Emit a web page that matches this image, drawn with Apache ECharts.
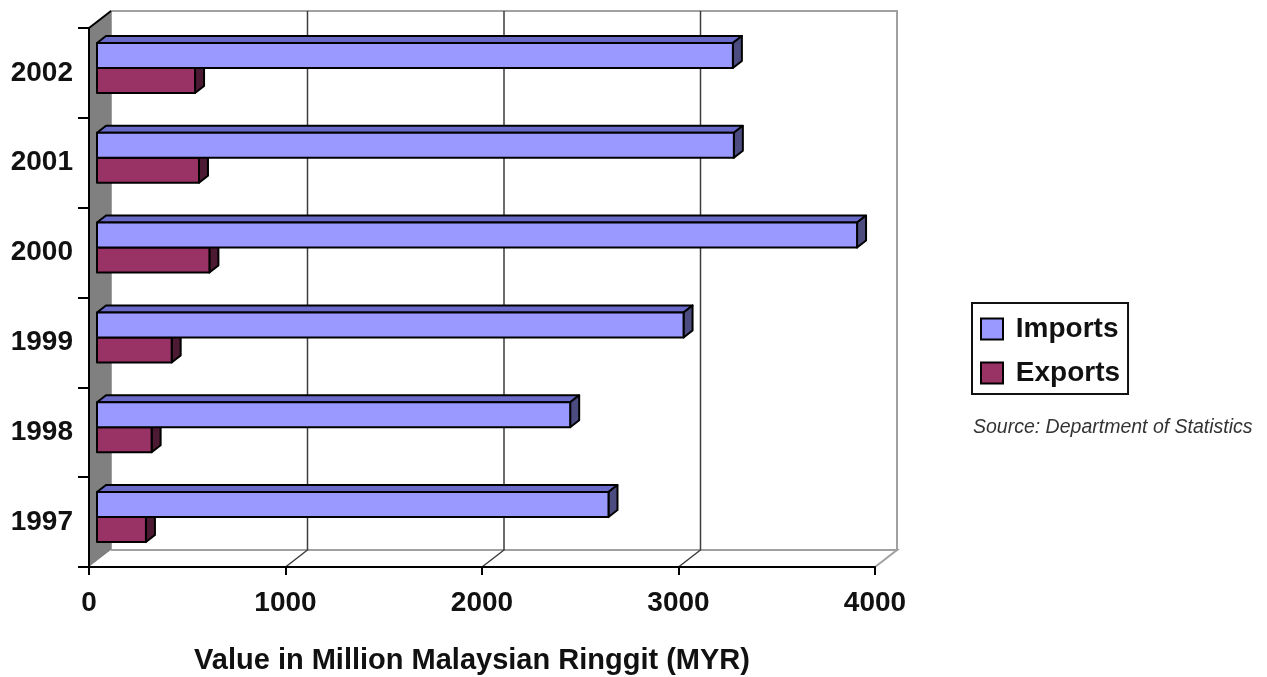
<!DOCTYPE html>
<html>
<head>
<meta charset="utf-8">
<title>Imports and Exports 1997-2002</title>
<script src="https://cdn.jsdelivr.net/npm/echarts@6/dist/echarts.min.js"></script>
<style>
  html, body { margin: 0; padding: 0; background: #ffffff; }
  #chart { width: 1267px; height: 677px; }
</style>
</head>
<body>
<div id="chart"></div>
<script>
// Values in million MYR, one entry per year (bottom to top)
const years = ['1997', '1998', '1999', '2000', '2001', '2002'];
const importsData = [2603, 2408, 2985, 3868, 3241, 3236];
const exportsData = [249, 278, 380, 572, 519, 499];
const xTicks = [0, 1000, 2000, 3000, 4000];
const gridValues = [1000, 2000, 3000];

const FONT = '"Liberation Sans", Arial, sans-serif';

// Pseudo-3D depth: full wall depth and bar placement inside it
const WDX = 22, WDY = -17;      // back wall offset from the front plane
const BDX = 8, BDY = -5;        // bar front face offset
const SDX = 9, SDY = -7;        // bar thickness (side / top faces)
const BAR_H = 25;               // bar height in pixels

function frameRenderer(params, api) {
  const cs = params.coordSys;
  const L = cs.x, R = cs.x + cs.width, T = cs.y, B = cs.y + cs.height;
  const children = [];
  // back wall
  children.push({
    type: 'rect',
    shape: { x: L + WDX, y: T + WDY, width: R - L, height: B - T },
    style: { fill: '#ffffff', stroke: '#a0a0a0', lineWidth: 2 }
  });
  // left side wall
  children.push({
    type: 'polygon',
    shape: { points: [[L, T], [L + WDX, T + WDY], [L + WDX, B + WDY], [L, B]] },
    style: { fill: '#808080' }
  });
  // floor
  children.push({
    type: 'polygon',
    shape: { points: [[L, B], [R, B], [R + WDX, B + WDY], [L + WDX, B + WDY]] },
    style: { fill: '#ffffff' }
  });
  children.push({
    type: 'polyline',
    shape: { points: [[L + WDX, B + WDY], [R + WDX, B + WDY], [R, B]] },
    style: { stroke: '#a0a0a0', lineWidth: 2, fill: null }
  });
  // value gridlines across the floor and up the back wall
  gridValues.forEach(function (v) {
    const x = api.coord([v, 0])[0];
    children.push({
      type: 'polyline',
      shape: { points: [[x, B], [x + WDX, B + WDY], [x + WDX, T + WDY]] },
      style: { stroke: '#3c3c3c', lineWidth: 1.5, fill: null }
    });
  });
  // top edge of the side wall
  children.push({
    type: 'line',
    shape: { x1: L, y1: T, x2: L + WDX, y2: T + WDY },
    style: { stroke: '#000000', lineWidth: 2 }
  });
  return { type: 'group', children: children };
}

function barRenderer(front, top, side, upper) {
  return function (params, api) {
    const v = api.value(0), c = api.value(1);
    const p0 = api.coord([0, c]);
    const p1 = api.coord([v, c]);
    const x0 = p0[0] + BDX, x1 = p1[0] + BDX;
    const mid = p0[1] + BDY;
    const y0 = upper ? mid - BAR_H : mid;
    const y1 = upper ? mid : mid + BAR_H;
    const edge = { stroke: '#000000', lineWidth: 2, lineJoin: 'round' };
    return {
      type: 'group',
      children: [
        {
          type: 'polygon',
          shape: { points: [[x0, y0], [x1, y0], [x1 + SDX, y0 + SDY], [x0 + SDX, y0 + SDY]] },
          style: Object.assign({ fill: top }, edge)
        },
        {
          type: 'polygon',
          shape: { points: [[x1, y0], [x1 + SDX, y0 + SDY], [x1 + SDX, y1 + SDY], [x1, y1]] },
          style: Object.assign({ fill: side }, edge)
        },
        {
          type: 'rect',
          shape: { x: x0, y: y0, width: x1 - x0, height: y1 - y0 },
          style: Object.assign({ fill: front }, edge)
        }
      ]
    };
  };
}

const chart = echarts.init(document.getElementById('chart'), null, { renderer: 'canvas' });

chart.setOption({
  backgroundColor: '#ffffff',
  animation: false,
  grid: { left: 89, right: 392, top: 28, bottom: 110 },
  xAxis: {
    type: 'value',
    min: xTicks[0],
    max: xTicks[xTicks.length - 1],
    interval: xTicks[1] - xTicks[0],
    axisLine: { show: true, lineStyle: { color: '#000000', width: 2 } },
    axisTick: { show: true, length: 8, lineStyle: { color: '#000000', width: 2 } },
    axisLabel: {
      fontSize: 28, fontWeight: 'bold', color: '#111111', margin: 22, fontFamily: FONT,
      formatter: function (v) { return String(v); }
    },
    splitLine: { show: false }
  },
  yAxis: {
    type: 'category',
    data: years,
    axisLine: { show: true, lineStyle: { color: '#000000', width: 2 } },
    axisTick: { show: true, length: 11, lineStyle: { color: '#000000', width: 2 } },
    axisLabel: { fontSize: 28, fontWeight: 'bold', color: '#111111', margin: 16, fontFamily: FONT },
    splitLine: { show: false }
  },
  legend: {
    orient: 'vertical',
    left: 972,
    top: 303,
    padding: [11, 8, 6, 8],
    itemGap: 14,
    itemWidth: 22,
    itemHeight: 21,
    borderColor: '#111111',
    borderWidth: 2,
    backgroundColor: '#ffffff',
    selectedMode: false,
    formatter: function (name) { return ' ' + name; },
    textStyle: { fontSize: 28, fontWeight: 'bold', color: '#111111', lineHeight: 30, fontFamily: FONT },
    data: [
      { name: 'Imports', icon: 'rect', itemStyle: { color: '#9999ff', borderColor: '#000000', borderWidth: 2 } },
      { name: 'Exports', icon: 'rect', itemStyle: { color: '#993366', borderColor: '#000000', borderWidth: 2 } }
    ]
  },
  graphic: [
    {
      type: 'text',
      x: 472,
      y: 661,
      style: {
        text: 'Value in Million Malaysian Ringgit (MYR)',
        align: 'center',
        verticalAlign: 'middle',
        fill: '#111111',
        font: 'bold 29px ' + FONT
      }
    },
    {
      type: 'text',
      x: 973,
      y: 428,
      style: {
        text: 'Source: Department of Statistics',
        align: 'left',
        verticalAlign: 'middle',
        fill: '#333333',
        font: 'italic 19.5px ' + FONT
      }
    }
  ],
  series: [
    {
      name: 'frame',
      type: 'custom',
      z: -1,
      silent: true,
      clip: false,
      encode: { x: 0, y: 1 },
      data: [[0, 0]],
      renderItem: frameRenderer
    },
    {
      name: 'Exports',
      type: 'custom',
      z: 3,
      clip: false,
      encode: { x: 0, y: 1 },
      itemStyle: { color: '#993366' },
      data: exportsData.map(function (v, i) { return [v, i]; }),
      renderItem: barRenderer('#993366', '#732650', '#4d1a33', false)
    },
    {
      name: 'Imports',
      type: 'custom',
      z: 4,
      clip: false,
      encode: { x: 0, y: 1 },
      itemStyle: { color: '#9999ff' },
      data: importsData.map(function (v, i) { return [v, i]; }),
      renderItem: barRenderer('#9999ff', '#6a6ac8', '#4c4c80', true)
    }
  ]
});
</script>
</body>
</html>
